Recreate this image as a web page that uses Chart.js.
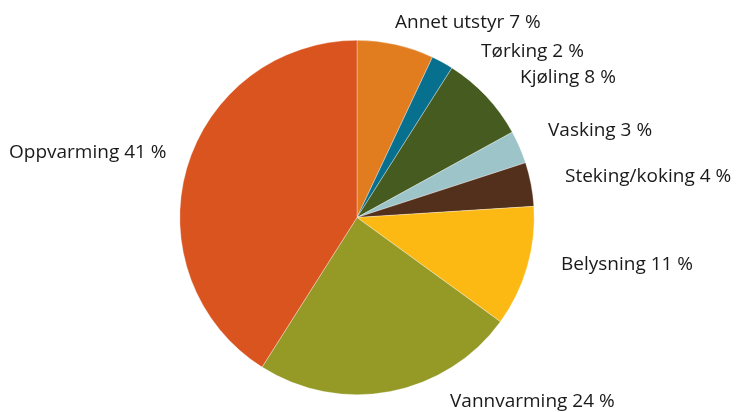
<!DOCTYPE html>
<html><head><meta charset="utf-8">
<script src="https://cdn.jsdelivr.net/npm/chart.js@4/dist/chart.umd.min.js"></script>
<style>html,body{margin:0;padding:0;background:#fff}#wrap{width:738px;height:412px}</style>
</head><body><div id="wrap"><canvas id="c"></canvas></div>
<script>
const categories = ['Annet utstyr','Tørking','Kjøling','Vasking','Steking/koking','Belysning','Vannvarming','Oppvarming'];
const values = [7,2,8,3,4,11,24,41];
const colors = ['#E27D1F','#07708E','#465B20','#9DC4C8','#52301C','#FCB813','#959926','#D9541F'];
// label text positions (left x, baseline y)
const labelPos = [[395,28],[481,57],[520,83],[548,136],[565,182],[561,270],[450,407],[9,158]];

const labelPlugin = {
  id:'labels',
  afterDraw(chart){
    const ctx=chart.ctx;
    ctx.save();
    ctx.font='19px "Open Sans"';
    ctx.fillStyle='#1a1a1a';
    ctx.textAlign='left';
    ctx.textBaseline='alphabetic';
    categories.forEach((c,i)=>{
      ctx.fillText(c+' '+values[i]+' %', labelPos[i][0], labelPos[i][1]);
    });
    ctx.restore();
  }
};

new Chart(document.getElementById('c'),{
  type:'pie',
  data:{labels:categories,datasets:[{data:values,backgroundColor:colors,borderColor:'rgba(255,255,255,0.55)',borderWidth:0.6}]},
  options:{
    responsive:true,maintainAspectRatio:false,animation:false,
    layout:{padding:{left:179.5,right:203.5,top:40,bottom:17}},
    plugins:{legend:{display:false},tooltip:{enabled:false}}
  },
  plugins:[labelPlugin]
});
</script></body></html>
